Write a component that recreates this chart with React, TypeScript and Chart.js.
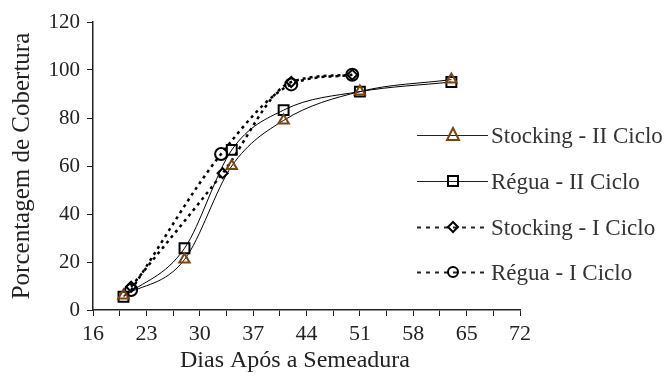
import React, { useEffect, useRef } from "react";
import { Chart, registerables } from "chart.js";

Chart.register(...registerables);

const stockingIIx = [20, 28, 34.2, 41, 51, 63];
const stockingIIy = [6, 21, 60, 79, 91, 96];
const reguaIIx = [20, 28, 34.2, 41, 51, 63];
const reguaIIy = [5.5, 25.7, 66.7, 83.3, 91, 95];
const stockingIx = [21, 33, 42, 50];
const stockingIy = [9.7, 57, 95, 98];
const reguaIx = [21, 32.8, 42, 50];
const reguaIy = [8.3, 65, 94, 98];

const seriesLabels = [
  "Stocking - II Ciclo",
  "Régua - II Ciclo",
  "Stocking - I Ciclo",
  "Régua - I Ciclo",
];
const xTickLabels = [16, 23, 30, 37, 44, 51, 58, 65, 72];
const xTitle = "Dias Após a Semeadura";
const yTitle = "Porcentagem de Cobertura";

const toPts = (xs: number[], ys: number[]) => xs.map((x, i) => ({ x, y: ys[i] }));

const BROWN = "#7a4310";
const SERIF = "'Liberation Serif', 'DejaVu Serif', serif";

export default function App() {
  const ref = useRef<HTMLCanvasElement | null>(null);
  useEffect(() => {
    document.body.style.margin = "0";
    const ctx = ref.current!.getContext("2d")!;
    const styles = [
      { color: BROWN, style: "triangle", r: 6, dash: [] as number[], lw: 1 },
      { color: "#000", style: "rect", r: 7, dash: [] as number[], lw: 1 },
      { color: "#000", style: "rectRot", r: 5, dash: [3, 4], lw: 2.5 },
      { color: "#000", style: "circle", r: 6, dash: [3, 4], lw: 2.5 },
    ];
    const legendPlugin = {
      id: "customLegend",
      afterDraw(chart: any) {
        const c = chart.ctx;
        c.save();
        // x-axis title
        c.fillStyle = "#222";
        c.font = "24px " + SERIF;
        c.textAlign = "center";
        c.textBaseline = "middle";
        c.fillText(xTitle, 295, 361);
        const ys = [135, 181, 227, 272];
        ys.forEach((y, i) => {
          const s = styles[i];
          c.strokeStyle = "#222";
          c.lineWidth = i < 2 ? 1 : 2;
          c.setLineDash(i < 2 ? [] : [4, 5]);
          c.beginPath();
          c.moveTo(417, y + 0.5);
          c.lineTo(488, y + 0.5);
          c.stroke();
          c.setLineDash([]);
          c.strokeStyle = s.color;
          c.lineWidth = 2;
          const mx = 453;
          c.beginPath();
          if (s.style === "triangle") {
            c.moveTo(mx, y - 7);
            c.lineTo(mx + 6, y + 5);
            c.lineTo(mx - 6, y + 5);
            c.closePath();
          } else if (s.style === "rect") {
            c.rect(mx - 5, y - 5, 10, 10);
          } else if (s.style === "rectRot") {
            c.moveTo(mx, y - 5);
            c.lineTo(mx + 5, y);
            c.lineTo(mx, y + 5);
            c.lineTo(mx - 5, y);
            c.closePath();
          } else {
            c.arc(mx, y, 5, 0, Math.PI * 2);
          }
          c.stroke();
          c.fillStyle = "#333";
          c.font = "23px " + SERIF;
          c.textBaseline = "middle";
          c.textAlign = "left";
          c.fillText(seriesLabels[i], 491, y + 2);
        });
        c.restore();
      },
    };
    const data = [
      toPts(stockingIIx, stockingIIy),
      toPts(reguaIIx, reguaIIy),
      toPts(stockingIx, stockingIy),
      toPts(reguaIx, reguaIy),
    ];
    const chart = new Chart(ctx, {
      type: "line",
      data: {
        datasets: data.map((d, i) => ({
          label: seriesLabels[i],
          data: d,
          borderColor: "#000",
          borderWidth: styles[i].lw,
          borderDash: styles[i].dash,
          tension: 0.4,
          cubicInterpolationMode: "monotone" as const,
          pointStyle: styles[i].style as any,
          pointRadius: styles[i].r,
          pointBorderColor: styles[i].color,
          pointBackgroundColor: "rgba(255,255,255,0)",
          pointBorderWidth: 2,
          fill: false,
        })),
      },
      options: {
        animation: false,
        responsive: false,
        layout: { padding: { top: 22, right: 144, left: 0, bottom: 0 } },
        plugins: { legend: { display: false }, tooltip: { enabled: false } },
        scales: {
          x: {
            type: "linear",
            min: 16,
            max: 72,
            border: { color: "#222", width: 1.5 },
            grid: { drawOnChartArea: false, tickLength: 6, color: "#222" },
            afterFit: (s: any) => {
              s.height = 63;
            },
            afterBuildTicks: (s: any) => {
              const t = [];
              for (let v = 16; v <= 72; v += 3.5) t.push({ value: v });
              s.ticks = t;
            },
            ticks: {
              autoSkip: false,
              maxRotation: 0,
              color: "#222",
              padding: 5,
              font: { family: SERIF, size: 22 },
              callback: (v: any) => (xTickLabels.includes(Number(v)) ? String(v) : ""),
            },
            title: { display: false },
          },
          y: {
            min: 0,
            max: 120,
            border: { color: "#222", width: 1.5 },
            grid: { drawOnChartArea: false, tickLength: 6, color: "#222" },
            afterFit: (s: any) => {
              s.width = 93;
            },
            ticks: {
              stepSize: 20,
              color: "#222",
              padding: 7,
              font: { family: SERIF, size: 21 },
            },
            title: {
              display: true,
              text: yTitle,
              color: "#222",
              padding: { top: 7, bottom: 0 },
              font: { family: SERIF, size: 25 },
            },
          },
        },
      },
      plugins: [legendPlugin],
    });
    return () => chart.destroy();
  }, []);
  return (
    <div style={{ position: "fixed", left: 0, top: 0, width: 664, height: 373, background: "#fff" }}>
      <canvas ref={ref} width={664} height={373} />
    </div>
  );
}
